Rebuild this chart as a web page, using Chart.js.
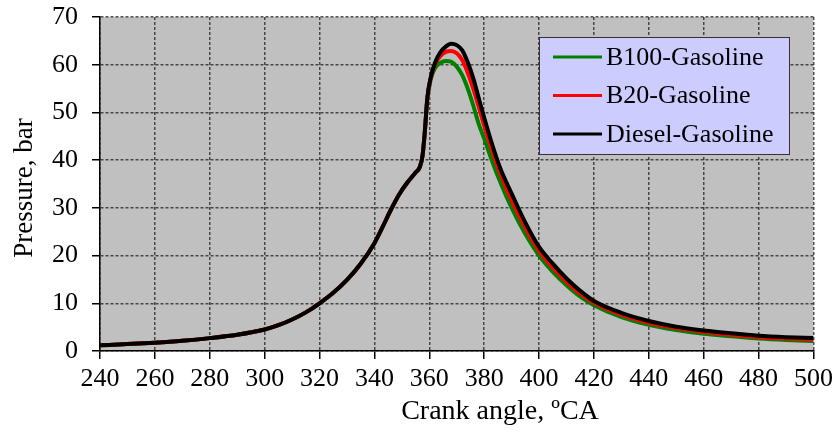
<!DOCTYPE html>
<html>
<head>
<meta charset="utf-8">
<script src="https://cdn.jsdelivr.net/npm/chart.js@4.4.0/dist/chart.umd.min.js"></script>
<style>
  html, body { margin: 0; padding: 0; background: #fff; }
  #wrap { width: 838px; height: 443px; }
</style>
</head>
<body>
<div id="wrap"><canvas id="pressureChart"></canvas></div>
<script>
// Crank angle (deg CA) and cylinder pressure (bar)
const crankAngles = [240, 250, 260, 270, 280, 290, 300, 305, 310, 315, 320, 325, 330, 335, 340, 343, 346, 349, 352, 355,
  356.5, 357.5, 358.3, 359.3, 360.5, 362, 364, 366, 368, 370, 372, 374, 376, 378, 380, 383, 386, 390, 395, 400,
  405, 410, 415, 420, 430, 440, 450, 460, 470, 480, 490, 500];

const dieselGasoline = [1.2, 1.45, 1.75, 2.15, 2.7, 3.4, 4.5, 5.4, 6.6, 8.1, 10.0, 12.2, 14.9, 18.3, 22.6, 26.0, 29.6, 32.8, 35.3, 37.4,
  38.5, 40.8, 45.5, 53.2, 57.3, 60.3, 62.6, 63.8, 64.4, 64.1, 63.0, 60.5, 57.2, 53.0, 48.9, 43.1, 38.1, 33.0, 26.9, 21.8,
  18.3, 15.2, 12.6, 10.5, 8.0, 6.3, 5.1, 4.3, 3.7, 3.2, 2.9, 2.7];

const b20Gasoline = [1.2, 1.45, 1.75, 2.15, 2.7, 3.4, 4.5, 5.4, 6.6, 8.1, 10.0, 12.2, 14.9, 18.3, 22.6, 26.0, 29.6, 32.8, 35.3, 37.4,
  38.5, 40.8, 45.5, 53.0, 57.2, 60.0, 61.8, 62.7, 62.9, 62.4, 61.0, 58.3, 55.0, 51.2, 47.2, 41.8, 37.0, 31.6, 25.8, 21.0,
  17.5, 14.5, 12.0, 10.1, 7.6, 5.9, 4.8, 4.0, 3.4, 2.9, 2.6, 2.4];

const b100Gasoline = [1.2, 1.45, 1.75, 2.15, 2.7, 3.4, 4.5, 5.4, 6.6, 8.1, 10.0, 12.2, 14.9, 18.3, 22.6, 26.0, 29.6, 32.8, 35.3, 37.4,
  38.5, 40.8, 45.5, 52.8, 56.9, 59.2, 60.4, 60.8, 60.6, 59.6, 57.8, 55.0, 51.5, 47.6, 44.5, 39.6, 35.2, 30.0, 24.5, 20.0,
  16.6, 13.8, 11.4, 9.6, 7.1, 5.5, 4.4, 3.6, 3.1, 2.6, 2.3, 2.1];

const seriesLabels = ['Diesel-Gasoline', 'B20-Gasoline', 'B100-Gasoline'];
const seriesColors = ['#000000', '#ff0000', '#008000'];
const seriesValues = [dieselGasoline, b20Gasoline, b100Gasoline];

const serif = "'Liberation Serif', 'Times New Roman', serif";

// grey plot background
const plotBackground = {
  id: 'plotBackground',
  beforeDraw(chart) {
    const { ctx, chartArea: a } = chart;
    ctx.save();
    ctx.fillStyle = '#c0c0c0';
    ctx.fillRect(a.left, a.top, a.right - a.left, a.bottom - a.top);
    ctx.restore();
  }
};

// boxed legend inside the plot + axis titles
const boxLegend = {
  id: 'boxLegend',
  afterDraw(chart) {
    const { ctx, chartArea: a } = chart;
    ctx.save();
    const bx = a.left + 439, by = a.top + 20, bw = 250, bh = 117;
    ctx.fillStyle = '#ccccff';
    ctx.fillRect(bx, by, bw, bh);
    ctx.strokeStyle = '#333';
    ctx.lineWidth = 1;
    ctx.strokeRect(bx + 0.5, by + 0.5, bw, bh);

    ctx.font = '26px ' + serif;
    ctx.textBaseline = 'middle';
    ctx.fillStyle = '#000';
    const items = chart.data.datasets.slice().reverse();
    items.forEach((ds, i) => {
      const y = by + 20 + i * 38.5;
      ctx.strokeStyle = ds.borderColor;
      ctx.lineWidth = 3;
      ctx.beginPath();
      ctx.moveTo(bx + 14, y);
      ctx.lineTo(bx + 63, y);
      ctx.stroke();
      ctx.fillText(ds.label, bx + 67, y + 1);
    });

    ctx.font = '28px ' + serif;
    ctx.textAlign = 'center';
    ctx.fillText('Crank angle, \u00baCA', 500, 412);
    ctx.font = '27px ' + serif;
    ctx.translate(25, 188);
    ctx.rotate(-Math.PI / 2);
    ctx.fillText('Pressure, bar', 0, 0);
    ctx.restore();
  }
};

new Chart(document.getElementById('pressureChart'), {
  type: 'line',
  data: {
    datasets: seriesLabels.map((label, i) => ({
      label: label,
      data: crankAngles.map((x, j) => ({ x: x, y: seriesValues[i][j] })),
      borderColor: seriesColors[i],
      borderWidth: 4,
      pointRadius: 0,
      cubicInterpolationMode: 'monotone',
      fill: false
    }))
  },
  plugins: [plotBackground, boxLegend],
  options: {
    responsive: true,
    maintainAspectRatio: false,
    animation: false,
    layout: { padding: { top: 17, right: 24, left: 0, bottom: 0 } },
    plugins: {
      legend: { display: false },
      tooltip: { enabled: false }
    },
    scales: {
      x: {
        type: 'linear',
        min: 240,
        max: 500,
        afterFit: s => { s.height = 92; },
        ticks: { stepSize: 20, color: '#000', font: { family: serif, size: 26 }, padding: 5, maxRotation: 0 },
        grid: { color: 'rgba(30,30,30,0.75)', lineWidth: 1.5, tickLength: 8, tickColor: '#000', tickWidth: 1.5 },
        border: { color: '#000', width: 1.5, dash: [3, 2] }
      },
      y: {
        min: 0,
        max: 70,
        afterFit: s => { s.width = 100; s.paddingTop = 0; s.paddingBottom = 0; },
        ticks: { stepSize: 10, color: '#000', font: { family: serif, size: 26 }, padding: 14 },
        grid: { color: 'rgba(30,30,30,0.75)', lineWidth: 1.5, tickLength: 8, tickColor: '#000', tickWidth: 1.5 },
        border: { color: '#000', width: 1.5, dash: [3, 2] }
      }
    }
  }
});
</script>
</body>
</html>
